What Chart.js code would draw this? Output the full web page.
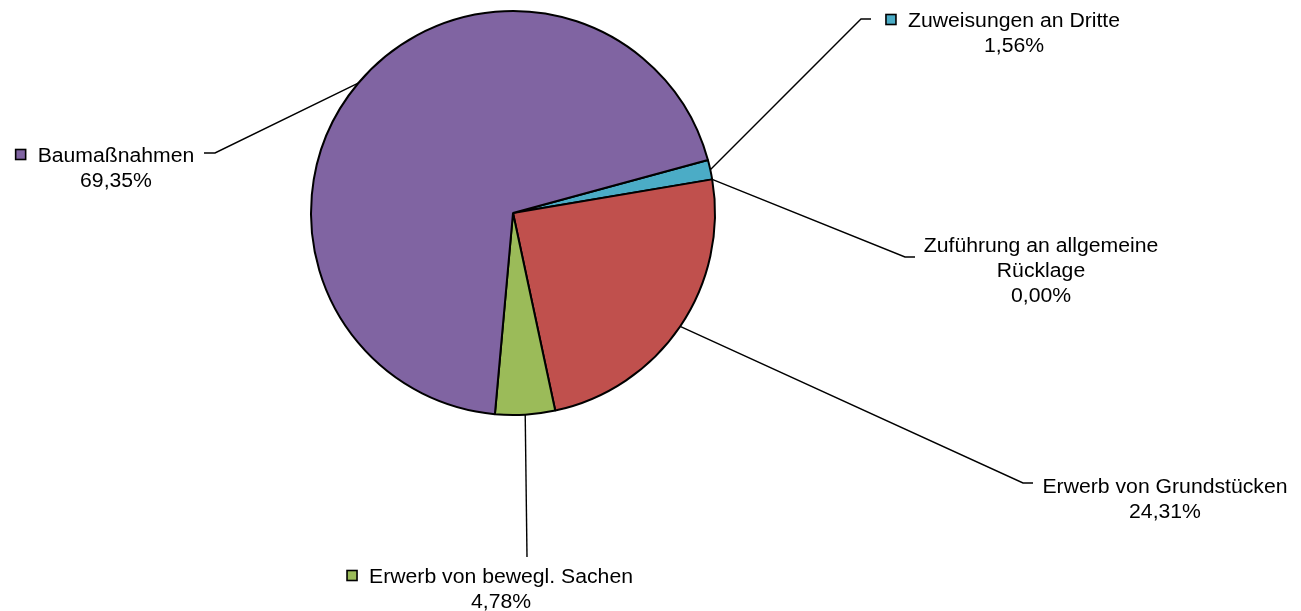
<!DOCTYPE html>
<html lang="de">
<head>
<meta charset="utf-8">
<title>Anteile der Ausgaben</title>
<script src="https://cdn.jsdelivr.net/npm/chart.js@4/dist/chart.umd.min.js"></script>
<style>
  html, body { margin: 0; padding: 0; background: #fff; }
  #wrap { width: 1301px; height: 611px; }
</style>
</head>
<body>
<div id="wrap"><canvas id="anteilChart"></canvas></div>
<script>
// Daten aus dem Diagramm (Reihenfolge im Uhrzeigersinn)
const kategorien = ['Zuweisungen an Dritte', 'Zuführung an allgemeine Rücklage', 'Erwerb von Grundstücken', 'Erwerb von bewegl. Sachen', 'Baumaßnahmen'];
const anteile = [1.56, 0.00, 24.31, 4.78, 69.35];
const farben = ['#4BACC6', '#F79646', '#C0504D', '#9BBB59', '#8064A2'];
const mitSymbol = [true, false, false, true, true];

// Lage der Beschriftungen: Knickpunkt der Linie, Linienende, Textmitte, erste Grundlinie
const beschriftungen = [
    { knick: [861, 19], ende: [871, 19], mitte: 1014, y: 27 },
    { knick: [905, 257], ende: [915, 257], mitte: 1041, y: 252, breite: 240 },
    { knick: [1023, 483], ende: [1033, 483], mitte: 1165, y: 493 },
    { knick: [527, 557], ende: [527, 557], mitte: 501, y: 583 },
    { knick: [215, 153], ende: [204, 153], mitte: 116, y: 162 }
];

const SCHRIFT_PX = 19.5;
const STRECKUNG = 1.087; // Text ist im Original etwas breiter gezogen
const ZEILE = 25;

function textBreite(ctx, t) {
    return ctx.measureText(t).width * STRECKUNG;
}

function textZeichnen(ctx, t, x, y) {
    ctx.save();
    ctx.translate(x, y);
    ctx.scale(STRECKUNG, 1);
    ctx.fillText(t, 0, 0);
    ctx.restore();
}

function umbrechen(ctx, t, max) {
    if (!max) return [t];
    const woerter = t.split(' ');
    const zeilen = [];
    let akt = '';
    woerter.forEach(w => {
        const probe = akt ? akt + ' ' + w : w;
        if (akt && textBreite(ctx, probe) > max) {
            zeilen.push(akt);
            akt = w;
        } else {
            akt = probe;
        }
    });
    if (akt) zeilen.push(akt);
    return zeilen;
}

function prozent(v) {
    return v.toFixed(2).replace('.', ',') + '%';
}

// Plugin für Führungslinien und Beschriftungen
const beschriftungPlugin = {
    id: 'beschriftung',
    afterDatasetsDraw(chart) {
        const ctx = chart.ctx;
        const meta = chart.getDatasetMeta(0);
        ctx.save();
        ctx.font = SCHRIFT_PX + 'px "Liberation Sans", Arial, sans-serif';
        ctx.textAlign = 'left';
        ctx.textBaseline = 'alphabetic';
        ctx.strokeStyle = '#000';
        meta.data.forEach((arc, i) => {
            const b = beschriftungen[i];
            const p = arc.getProps(['x', 'y', 'startAngle', 'endAngle', 'outerRadius'], true);
            const w = (p.startAngle + p.endAngle) / 2;
            const sx = p.x + Math.cos(w) * p.outerRadius;
            const sy = p.y + Math.sin(w) * p.outerRadius;

            ctx.lineWidth = 1.4;
            ctx.beginPath();
            ctx.moveTo(sx, sy);
            ctx.lineTo(b.knick[0], b.knick[1]);
            ctx.lineTo(b.ende[0], b.ende[1]);
            ctx.stroke();

            const zeilen = umbrechen(ctx, kategorien[i], b.breite);
            zeilen.push(prozent(anteile[i]));
            zeilen.forEach((z, k) => {
                const x = b.mitte - textBreite(ctx, z) / 2;
                const y = b.y + k * ZEILE;
                ctx.fillStyle = '#000';
                textZeichnen(ctx, z, x, y);
                if (k === 0 && mitSymbol[i]) {
                    ctx.fillStyle = farben[i];
                    ctx.fillRect(x - 22, y - 12.5, 10, 10);
                    ctx.lineWidth = 1.6;
                    ctx.strokeRect(x - 22, y - 12.5, 10, 10);
                }
            });
        });
        ctx.restore();
    }
};

const ctx = document.getElementById('anteilChart').getContext('2d');
new Chart(ctx, {
    type: 'pie',
    data: {
        labels: kategorien,
        datasets: [{
            data: anteile,
            backgroundColor: farben,
            borderColor: '#000',
            borderWidth: 2
        }]
    },
    options: {
        responsive: true,
        maintainAspectRatio: false,
        animation: false,
        events: [],
        rotation: 74.8,
        radius: 202,
        layout: {
            padding: { left: 0, right: 275, top: 0, bottom: 185 }
        },
        plugins: {
            legend: { display: false },
            tooltip: { enabled: false }
        }
    },
    plugins: [beschriftungPlugin]
});
</script>
</body>
</html>
